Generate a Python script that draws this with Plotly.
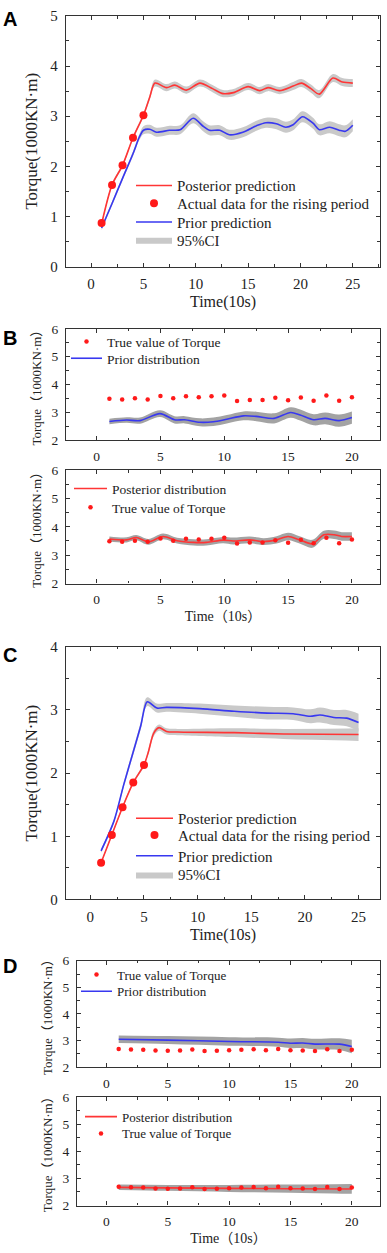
import plotly.graph_objects as go

# ---------------- data ----------------
# Panel A
A_rise_x = [1, 2, 3, 4, 5]
A_actual = [0.87, 1.63, 2.02, 2.57, 3.02]
A_post_x = [1, 2, 3, 4, 5, 5.6, 6.1, 7.2, 8.0, 9.1, 10.4, 11.6, 12.6, 13.6, 15.0, 16.1, 16.9, 18.0, 19.3, 20.1, 21.0, 21.8, 23.1, 24.0, 25]
A_post_y = [0.85, 1.63, 2.02, 2.57, 3.02, 3.38, 3.66, 3.57, 3.62, 3.52, 3.66, 3.55, 3.45, 3.47, 3.59, 3.51, 3.57, 3.51, 3.60, 3.66, 3.55, 3.44, 3.76, 3.68, 3.66]
A_post_ci = [0.03, 0.03, 0.03, 0.03, 0.04, 0.05, 0.07, 0.07, 0.07, 0.07, 0.07, 0.07, 0.07, 0.07, 0.07, 0.07, 0.07, 0.07, 0.08, 0.08, 0.08, 0.08, 0.08, 0.08, 0.08]
A_prior_x = [1, 2, 3, 4, 4.6, 5.0, 5.6, 6.25, 7.5, 8.5, 9.75, 10.7, 11.3, 12.3, 13.2, 14.5, 15.8, 16.7, 17.7, 18.6, 19.3, 20.2, 21.2, 21.8, 22.8, 23.7, 24.3, 25]
A_prior_y = [0.77, 1.26, 1.76, 2.25, 2.58, 2.72, 2.74, 2.68, 2.72, 2.73, 2.96, 2.80, 2.72, 2.72, 2.63, 2.68, 2.81, 2.87, 2.85, 2.78, 2.83, 2.99, 2.86, 2.73, 2.78, 2.72, 2.70, 2.82]
A_prior_ci = [0.04, 0.04, 0.04, 0.05, 0.06, 0.08, 0.09, 0.09, 0.09, 0.09, 0.1, 0.1, 0.1, 0.1, 0.1, 0.1, 0.1, 0.1, 0.11, 0.11, 0.11, 0.11, 0.11, 0.11, 0.12, 0.12, 0.12, 0.12]

# Panel B
B_x = list(range(1, 21))
B_true = [3.49, 3.47, 3.51, 3.47, 3.59, 3.51, 3.58, 3.55, 3.58, 3.61, 3.41, 3.45, 3.45, 3.53, 3.44, 3.54, 3.42, 3.61, 3.42, 3.55]
B_prior_x = [1, 2.35, 3.4, 4.97, 6.1, 6.9, 8.1, 9.15, 10.2, 11.5, 12.5, 13.9, 15.2, 15.95, 17, 17.9, 19, 20]
B_prior_y = [2.68, 2.73, 2.71, 2.96, 2.74, 2.74, 2.65, 2.67, 2.76, 2.88, 2.86, 2.79, 3.00, 2.91, 2.74, 2.79, 2.71, 2.82]
B_prior_ci = [0.10, 0.10, 0.11, 0.12, 0.13, 0.13, 0.14, 0.15, 0.15, 0.16, 0.17, 0.18, 0.19, 0.20, 0.20, 0.21, 0.22, 0.22]
B_post_x = [1, 2.35, 3.1, 4.05, 5.2, 6.3, 7.6, 8.6, 9.9, 10.7, 12, 13.1, 14.1, 15, 15.9, 16.9, 17.8, 18.6, 19.2, 20]
B_post_y = [3.57, 3.54, 3.62, 3.47, 3.66, 3.51, 3.45, 3.45, 3.53, 3.50, 3.54, 3.48, 3.54, 3.66, 3.54, 3.40, 3.72, 3.72, 3.66, 3.66]
B_post_ci = [0.09, 0.09, 0.09, 0.10, 0.10, 0.10, 0.11, 0.11, 0.11, 0.12, 0.12, 0.12, 0.13, 0.13, 0.13, 0.14, 0.14, 0.15, 0.15, 0.15]

# Panel C
C_rise_x = [1, 2, 3, 4, 5]
C_actual = [0.58, 1.02, 1.46, 1.85, 2.13]
C_post_x = [1, 2, 3, 4, 5, 5.4, 5.9, 6.4, 7.1, 8.1, 13.4, 18, 25]
C_post_y = [0.58, 1.02, 1.46, 1.85, 2.13, 2.33, 2.63, 2.72, 2.66, 2.65, 2.64, 2.62, 2.61]
C_post_ci = [0.02, 0.02, 0.02, 0.02, 0.03, 0.04, 0.05, 0.05, 0.05, 0.05, 0.07, 0.08, 0.10]
C_prior_x = [1, 2.2, 3.1, 3.9, 4.7, 5.3, 6.2, 7.1, 10.2, 13.4, 16.5, 18.9, 20.5, 21.4, 22.7, 23.9, 25]
C_prior_y = [0.77, 1.24, 1.81, 2.28, 2.75, 3.13, 3.03, 3.04, 3.02, 2.98, 2.95, 2.94, 2.90, 2.92, 2.88, 2.87, 2.80]
C_prior_ci = [0.03, 0.03, 0.04, 0.05, 0.06, 0.07, 0.07, 0.07, 0.08, 0.09, 0.1, 0.1, 0.11, 0.12, 0.12, 0.13, 0.14]

# Panel D
D_x = list(range(1, 21))
D_true = [2.69, 2.67, 2.66, 2.63, 2.62, 2.63, 2.67, 2.61, 2.62, 2.64, 2.66, 2.68, 2.64, 2.69, 2.64, 2.63, 2.61, 2.68, 2.61, 2.66]
D_prior_x = [1, 5, 10, 14, 15, 16, 17, 19, 20]
D_prior_y = [3.05, 3.02, 2.97, 2.94, 2.90, 2.91, 2.87, 2.87, 2.78]
D_prior_ci = [0.14, 0.15, 0.16, 0.17, 0.18, 0.19, 0.20, 0.22, 0.25]
D_post_x = [1, 5, 10, 15, 20]
D_post_y = [2.67, 2.65, 2.63, 2.62, 2.61]
D_post_ci = [0.10, 0.11, 0.13, 0.15, 0.18]

# ---------------- style ----------------
RED = "#FF3535"
DOT = "#FF1A1A"
BLUE = "#3838F0"
BAND_LIGHT = "#C9C9C9"
BAND_DARK = "#A3A3A3"
SERIF = "Liberation Serif, Times New Roman, Noto Sans CJK SC, serif"
W, H = 387, 1253

fig = go.Figure()


def band(xs, ys, ci, color, xa, ya, legend="legend", name="95%CI", show=False):
    lo = [y - c for y, c in zip(ys, ci)]
    hi = [y + c for y, c in zip(ys, ci)]
    fig.add_trace(go.Scatter(x=xs, y=lo, mode="lines", line=dict(width=0, color=color, shape="spline"),
                             xaxis=xa, yaxis=ya, showlegend=False, hoverinfo="skip", legend=legend))
    fig.add_trace(go.Scatter(x=xs, y=hi, mode="lines", line=dict(width=0, color=color, shape="spline"),
                             fill="tonexty", fillcolor=color, xaxis=xa, yaxis=ya, name=name,
                             showlegend=show, legend=legend))


def line(xs, ys, color, xa, ya, name, legend):
    fig.add_trace(go.Scatter(x=xs, y=ys, mode="lines", line=dict(width=1.6, color=color, shape="spline", smoothing=0.8),
                             xaxis=xa, yaxis=ya, name=name, showlegend=True, legend=legend))


def dots(xs, ys, size, xa, ya, name, legend):
    fig.add_trace(go.Scatter(x=xs, y=ys, mode="markers", marker=dict(size=size, color=DOT),
                             xaxis=xa, yaxis=ya, name=name, showlegend=True, legend=legend))


# Panel A
band(A_prior_x, A_prior_y, A_prior_ci, BAND_LIGHT, "x", "y", "legend4", show=True)
band(A_post_x, A_post_y, A_post_ci, BAND_LIGHT, "x", "y", "legend4")
line(A_post_x, A_post_y, RED, "x", "y", "Posterior prediction", "legend")
line(A_prior_x, A_prior_y, BLUE, "x", "y", "Prior prediction", "legend3")
dots(A_rise_x, A_actual, 8, "x", "y", "Actual data for the rising period", "legend2")

# Panel B top
band(B_prior_x, B_prior_y, B_prior_ci, BAND_DARK, "x2", "y2", "legend6")
line(B_prior_x, B_prior_y, BLUE, "x2", "y2", "Prior distribution", "legend6")
dots(B_x, B_true, 4.5, "x2", "y2", "True value of Torque", "legend5")

# Panel B bottom
band(B_post_x, B_post_y, B_post_ci, BAND_DARK, "x3", "y3", "legend7")
line(B_post_x, B_post_y, RED, "x3", "y3", "Posterior distribution", "legend7")
dots(B_x, B_true, 4.5, "x3", "y3", "True value of Torque", "legend8")

# Panel C
band(C_prior_x, C_prior_y, C_prior_ci, BAND_LIGHT, "x4", "y4", "legend12", show=True)
band(C_post_x, C_post_y, C_post_ci, BAND_LIGHT, "x4", "y4", "legend12")
line(C_post_x, C_post_y, RED, "x4", "y4", "Posterior prediction", "legend9")
line(C_prior_x, C_prior_y, BLUE, "x4", "y4", "Prior prediction", "legend11")
dots(C_rise_x, C_actual, 8, "x4", "y4", "Actual data for the rising period", "legend10")

# Panel D top
band(D_prior_x, D_prior_y, D_prior_ci, BAND_DARK, "x5", "y5", "legend14")
line(D_prior_x, D_prior_y, BLUE, "x5", "y5", "Prior distribution", "legend14")
dots(D_x, D_true, 4.5, "x5", "y5", "True value of Torque", "legend13")

# Panel D bottom
band(D_post_x, D_post_y, D_post_ci, BAND_DARK, "x6", "y6", "legend15")
line(D_post_x, D_post_y, RED, "x6", "y6", "Posterior distribution", "legend15")
dots(D_x, D_true, 4.5, "x6", "y6", "True value of Torque", "legend16")


def px(v):
    return v / W


def py(v):
    return 1 - v / H


AX = "#333333"


def xax(dom, rng, tsize, anchor, title=None, tfs=16, standoff=6):
    d = dict(domain=dom, range=rng, dtick=5, tick0=0, ticks="inside", ticklen=4, tickwidth=1, tickcolor=AX,
             showline=True, linecolor=AX, linewidth=1.3, mirror="allticks", showgrid=False, zeroline=False,
             anchor=anchor, tickfont=dict(family=SERIF, size=tsize, color="#222"), ticklabelstandoff=3,
             minor=dict(dtick=2.5, ticks="inside", ticklen=2.5, tickcolor=AX))
    if title:
        d["title"] = dict(text=title, font=dict(family=SERIF, size=tfs, color="#222"), standoff=standoff)
    return d


def yax(dom, rng, tsize, anchor, title, tfs, standoff=6):
    return dict(domain=dom, range=rng, dtick=1, tick0=0, ticks="inside", ticklen=4, tickwidth=1, tickcolor=AX,
                showline=True, linecolor=AX, linewidth=1.3, mirror="allticks", showgrid=False, zeroline=False,
                anchor=anchor, tickfont=dict(family=SERIF, size=tsize, color="#222"), ticklabelstandoff=4,
                minor=dict(dtick=0.5, ticks="inside", ticklen=2.5, tickcolor=AX),
                title=dict(text=title, font=dict(family=SERIF, size=tfs, color="#222"), standoff=standoff))


XD = [px(66), px(380)]
XD_D = [px(77), px(380)]
TQ = "Torque(1000KN·m)"
TQW = "Torque（1000KN·m）"

fig.update_layout(
    width=W, height=H, autosize=False, showlegend=True,
    margin=dict(l=0, r=0, t=0, b=0),
    paper_bgcolor="white", plot_bgcolor="white",
    font=dict(family=SERIF, color="#222"),
    xaxis=xax(XD, [-2.4, 27.6], 15, "y", "Time(10s)", 16, 4),
    yaxis=yax([py(262), py(8)], [0, 5], 15, "x", TQ, 17, 8),
    xaxis2=xax(XD, [-2.4, 22.2], 13.5, "y2"),
    yaxis2=yax([py(438), py(325)], [2, 6], 13.5, "x2", TQW, 13, 6),
    xaxis3=xax(XD, [-2.4, 22.2], 13.5, "y3", "Time（10s）", 14, 5),
    yaxis3=yax([py(583), py(468)], [2, 6], 13.5, "x3", TQW, 13, 6),
    xaxis4=xax(XD, [-2.27, 27.0], 15, "y4", "Time(10s)", 16, 5),
    yaxis4=yax([py(903), py(647)], [0, 4], 15, "x4", TQ, 17, 8),
    xaxis5=xax(XD_D, [-2.4, 22.3], 13.5, "y5"),
    yaxis5=yax([py(1073), py(965)], [2, 6], 13.5, "x5", TQW, 13, 6),
    xaxis6=xax(XD_D, [-2.4, 22.3], 13.5, "y6", "Time（10s）", 14, 5),
    yaxis6=yax([py(1213), py(1103)], [2, 6], 13.5, "x6", TQW, 13, 6),
)


def leg(line_x, yc, size, iw):
    # one legend per entry, placed by line-sample start and row centre (page pixels)
    return dict(x=px(line_x - 6), y=py(yc), xanchor="left", yanchor="middle", bgcolor="rgba(0,0,0,0)",
                borderwidth=0, font=dict(family=SERIF, size=size, color="#222"), itemwidth=iw,
                itemclick=False, itemdoubleclick=False, visible=True)


fig.update_layout(
    legend=leg(137, 180, 15, 36),
    legend2=leg(137, 198, 15, 36),
    legend3=leg(137, 217, 15, 36),
    legend4=leg(137, 235, 15, 36),
    legend5=leg(72, 338, 13.5, 31),
    legend6=leg(72, 355, 13.5, 31),
    legend7=leg(75, 487, 13.5, 33),
    legend8=leg(75, 506, 13.5, 33),
    legend9=leg(137, 821, 15, 37),
    legend10=leg(137, 838, 15, 37),
    legend11=leg(137, 859, 15, 37),
    legend12=leg(137, 878, 15, 37),
    legend13=leg(82, 979, 13, 31),
    legend14=leg(82, 996, 13, 31),
    legend15=leg(86, 1123, 13, 32),
    legend16=leg(86, 1140, 13, 32),
)

for letter, yy in [("A", 11), ("B", 334), ("C", 655), ("D", 970)]:
    fig.add_annotation(text="<b>" + letter + "</b>", x=px(10), y=py(yy), xref="paper", yref="paper",
                       showarrow=False, xanchor="center", yanchor="middle",
                       font=dict(family="Liberation Sans, Arial, sans-serif", size=20, color="black"))

fig.write_html("out.html", config={"displayModeBar": False},
               post_script="document.body.style.margin='0';document.body.style.overflow='hidden';")
